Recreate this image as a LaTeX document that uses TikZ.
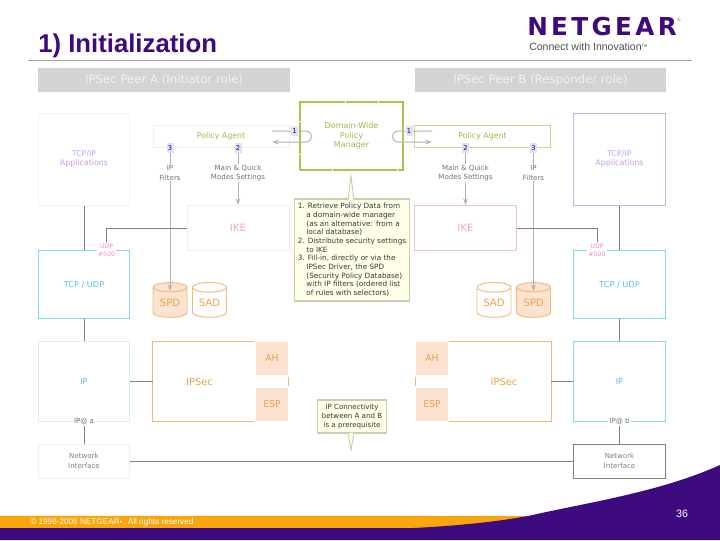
\documentclass[tikz,border=0pt]{standalone}
\usepackage{xcolor}
\usepackage{fontspec}
\setmainfont{DejaVu Sans}
\newfontfamily\titlefont{Liberation Sans}
\newfontfamily\logofont[LetterSpace=13.5]{DejaVu Sans}
\usetikzlibrary{positioning, arrows.meta, calc, shapes.geometric}
\definecolor{netpurple}{HTML}{3E0A80}
\definecolor{netorange}{HTML}{FAA50A}
\definecolor{headgray}{HTML}{D3D3D3}
\definecolor{policygreen}{HTML}{98BC48}
\definecolor{managergreen}{HTML}{ABC24C}
\definecolor{agentgreen}{HTML}{C6D690}
\definecolor{appviolet}{HTML}{C29EEC}
\definecolor{appborder}{HTML}{C8B0E0}
\definecolor{ikepink}{HTML}{E6A6D2}
\definecolor{ikeborder}{HTML}{EDBFDD}
\definecolor{udppink}{HTML}{EE8CC8}
\definecolor{tcpcyan}{HTML}{55C2E0}
\definecolor{tcpborder}{HTML}{85D6E8}
\definecolor{secorange}{HTML}{E8A24A}
\definecolor{secborder}{HTML}{F3B778}
\definecolor{secfill}{HTML}{FCE3CF}
\definecolor{faintline}{HTML}{EFEFEF}
\definecolor{badgeblue}{HTML}{E0E0F6}
\definecolor{notefill}{HTML}{FFFFE8}
\definecolor{noteborder}{HTML}{CDCDB4}
\tikzset{
    boxsize/.style 2 args={minimum width=#1*0.75pt, minimum height=#2*0.75pt},
    plainbox/.style={draw, line width=0.75pt, inner sep=0pt, align=center,
        font=\fontsize{5.9}{7}\selectfont},
    badge/.style={fill=badgeblue, text=blue!50!black, inner sep=0pt, boxsize={7}{10},
        font=\fontsize{5}{5}\selectfont},
    graylabel/.style={fill=white, text=black!55, inner sep=0.6pt, align=center,
        font=\fontsize{5.3}{7}\selectfont},
    link/.style={draw=black!50, line width=0.75pt},
    thinflow/.style={draw=black!30, line width=0.75pt},
    flow/.style={thinflow, -{Stealth[length=5pt,width=3.5pt]}},
    udplabel/.style={fill=white, text=udppink, inner sep=1pt, align=center,
        font=\fontsize{4.6}{6.3}\selectfont},
    disk/.style={cylinder, shape border rotate=90, aspect=0.45, draw=secborder, line width=0.7pt,
        text=secorange, inner sep=0pt, minimum width=25.5pt, minimum height=26pt,
        font=\fontsize{7.6}{8}\selectfont},
    secbox/.style={text=secorange, inner sep=0pt, align=center, boxsize={102}{80},
        font=\fontsize{7.4}{8}\selectfont},
    secline/.style={draw=secborder, line width=0.75pt},
    protocol/.style={fill=secfill, text=secorange, inner sep=0pt, boxsize={32}{33},
        font=\fontsize{7}{8}\selectfont},
    note/.style={draw=noteborder, fill=notefill, line width=0.9pt, text=black!78, inner sep=0pt},
    head/.style={fill=headgray, text=white!95!black, inner sep=0pt, boxsize={252}{24},
        font=\fontsize{8.8}{10}\selectfont}
}
\begin{document}
\begin{tikzpicture}[x=0.75pt, y=-0.75pt]
    \useasboundingbox (0,0) rectangle (720,540);

    % footer
    \fill[netorange] (0,516) -- (530,516) -- (530,528) -- (0,528) -- cycle;
    \fill[netpurple] (0,528) -- (413,528) .. controls (455,526) and (495,522) .. (528,516)
        .. controls (590,502) and (660,492) .. (720,465) -- (720,540) -- (0,540) -- cycle;
    \node[text=white, anchor=west, inner sep=0pt, font=\titlefont\fontsize{6.15}{7}\selectfont] (copyright) at (30,522)
        {© 1996-2006 NETGEAR\raisebox{0.5pt}{\fontsize{3.5}{4}\selectfont●}. All rights reserved};
    \node[text=white, inner sep=0pt, font=\titlefont\fontsize{8}{9}\selectfont] (pagenum) at (682,514) {36};

    % title and logo
    \node[anchor=west, inner sep=0pt, text=netpurple, font=\titlefont\bfseries\fontsize{19.3}{22}\selectfont] (title) at (38,46)
        {1) Initialization};
    \draw[black!35, line width=0.6pt] (28,60) -- (692,60);
    \node[anchor=west, inner sep=0pt, text=netpurple, font=\logofont\bfseries\fontsize{18.5}{20}\selectfont] (logo) at (527,27) {NETGEAR};
    \node[anchor=west, inner sep=0pt, text=black!70, font=\titlefont\fontsize{7.9}{9}\selectfont] (slogan) at (529,47)
        {Connect with Innovation\raisebox{2.5pt}{\fontsize{3}{3}\selectfont TM}};
    \node[inner sep=0pt, text=black!55, font=\titlefont\fontsize{3.5}{4}\selectfont] (regmark) at (679,20) {®};

    \node[head] (heada) at (164,80) {IPSec Peer A (Initiator role)};
    \node[head, boxsize={251}{24}] (headb) at (540.5,80) {IPSec Peer B (Responder role)};

    % peer A
    \node[plainbox, draw=appviolet!18, text=appviolet, boxsize={91}{92}] (appsa) at (84,159) {TCP/IP\\Applications};
    \node[plainbox, draw=faintline, text=policygreen, boxsize={136}{22}] (agenta) at (221,136) {Policy Agent};
    \node[plainbox, draw=faintline, text=ikepink, boxsize={102}{45}, font=\fontsize{7.6}{8}\selectfont] (ikea) at (238,228) {IKE};
    \node[plainbox, draw=tcpborder, text=tcpcyan, boxsize={91}{68}, font=\fontsize{6.15}{7}\selectfont] (tcpa) at (84,284.5) {TCP / UDP};
    \node[plainbox, draw=tcpborder!35, text=tcpcyan, boxsize={91}{80}, font=\fontsize{6.15}{7}\selectfont] (ipa) at (84,381.5) {IP};
    \node[plainbox, draw=faintline, text=black!50, boxsize={91}{34}, font=\fontsize{5.3}{7}\selectfont] (neta) at (84,461) {Network\\Interface};
    \node[disk, fill=secfill] (spda) at (170,302.5) {SPD};
    \node[disk] (sada) at (209.5,302.5) {SAD};
    \node[secbox, boxsize={101}{80}] (ipseca) at (203.5,381.5) {\hspace*{-6pt}IPSec};
    \node[protocol] (aha) at (272,358.5) {AH};
    \node[protocol] (espa) at (272,404.5) {ESP};
    \draw[secline] (ipseca.north east) -- (ipseca.north west) -- (ipseca.south west) -- (ipseca.south east);
    \draw[secline, shorten >=1pt, shorten <=1pt] (aha.south east) -- (espa.north east);

    % peer B
    \node[plainbox, draw=appborder, text=appviolet, boxsize={92}{92}] (appsb) at (619.5,159) {TCP/IP\\Applications};
    \node[plainbox, draw=agentgreen, text=policygreen, boxsize={136}{22}] (agentb) at (482.5,136) {Policy Agent};
    \node[plainbox, draw=ikeborder, text=ikepink, boxsize={102}{45}, font=\fontsize{7.6}{8}\selectfont] (ikeb) at (465.5,228) {IKE};
    \node[plainbox, draw=tcpborder, text=tcpcyan, boxsize={92}{68}, font=\fontsize{6.15}{7}\selectfont] (tcpb) at (619.5,284.5) {TCP / UDP};
    \node[plainbox, draw=tcpborder, text=tcpcyan, boxsize={92}{80}, font=\fontsize{6.15}{7}\selectfont] (ipb) at (619.5,381.5) {IP};
    \node[plainbox, draw=black!50, text=black!50, boxsize={92}{34}, font=\fontsize{5.3}{7}\selectfont] (netb) at (619.5,461) {Network\\Interface};
    \node[disk] (sadb) at (494,302.5) {SAD};
    \node[disk, fill=secfill] (spdb) at (533.5,302.5) {SPD};
    \node[secbox] (ipsecb) at (500,381.5) {\hspace*{6pt}IPSec};
    \node[protocol] (ahb) at (432,358.5) {AH};
    \node[protocol] (espb) at (432,404.5) {ESP};
    \draw[secline] (ipsecb.north west) -- (ipsecb.north east) -- (ipsecb.south east) -- (ipsecb.south west);
    \draw[secline, shorten >=1pt, shorten <=1pt] (ahb.south west) -- (espb.north west);

    % manager and policy flow
    \node[plainbox, draw=managergreen, text=policygreen, boxsize={103}{68}, line width=0.9pt, dash pattern=on 24pt off 0.5pt,
        font=\fontsize{6}{7}\selectfont] (manager) at (351.5,136) {Domain-Wide\\Policy\\Manager};
    \coordinate (loopaout) at (272,131);
    \coordinate (loopain) at (272,142);
    \coordinate (loopbout) at (432,131);
    \coordinate (loopbin) at (432,142);
    \draw[flow] (loopaout) -- (305,131) .. controls (314,131) and (314,142) .. (305,142) -- (loopain);
    \draw[flow] (loopbout) -- (399,131) .. controls (390,131) and (390,142) .. (399,142) -- (loopbin);
    \node[badge] (onea) at (294.5,131) {1};
    \node[badge] (oneb) at (409,131) {1};
    \node[badge] (threea) at (170,148) {3};
    \node[badge] (twoa) at (238,148) {2};
    \node[badge] (twob) at (465.5,148) {2};
    \node[badge] (threeb) at (533.5,148) {3};
    \node[graylabel] (filtersa) at (170,173) {IP\\Filters};
    \node[graylabel] (modesa) at (238,173) {Main \& Quick\\Modes Settings};
    \node[graylabel] (modesb) at (465.5,173) {Main \& Quick\\Modes Settings};
    \node[graylabel] (filtersb) at (533.5,173) {IP\\Filters};
    \coordinate (spdatip) at (170,291);
    \coordinate (spdbtip) at (533.5,291);
    \draw[thinflow] (threea) -- (filtersa);
    \draw[thinflow] (twoa) -- (modesa);
    \draw[thinflow] (twob) -- (modesb);
    \draw[thinflow] (threeb) -- (filtersb);
    \draw[flow] (filtersa) -- (spdatip);
    \draw[flow] (modesa) -- (ikea);
    \draw[flow] (modesb) -- (ikeb);
    \draw[flow] (filtersb) -- (spdbtip);

    % stack links
    \node[udplabel] (udpa) at (106.5,250) {UDP\\\#500};
    \node[udplabel] (udpb) at (597,250) {UDP\\\#500};
    \node[graylabel, inner sep=1pt] (addra) at (84,421.5) {IP@ a};
    \node[graylabel, inner sep=1pt] (addrb) at (619.5,421.5) {IP@ b};
    \draw[link] (appsa) -- (tcpa);
    \draw[link] (tcpa) -- (ipa);
    \draw[link] (ipa) -- (ipseca);
    \draw[link] (addra) -- (neta);
    \draw[link] (ikea.west) -| (udpa.north);
    \draw[link] (appsb) -- (tcpb);
    \draw[link] (tcpb) -- (ipb);
    \draw[link] (ipb) -- (ipsecb);
    \draw[link] (addrb) -- (netb);
    \draw[link] (ikeb.east) -| (udpb.north);
    \draw[link] (neta) -- (netb);

    % notes
    \node[note, boxsize={115}{102}, align=left, font=\fontsize{5.45}{6.5}\selectfont] (notemain) at (352,250) {%
        1. Retrieve Policy Data from\\
        \hspace*{6.5pt}a domain-wide manager\\
        \hspace*{6.5pt}(as an alternative: from a\\
        \hspace*{6.5pt}local database)\\
        2. Distribute security settings\\
        \hspace*{6.5pt}to IKE\\
        3. Fill-in, directly or via the\\
        \hspace*{6.5pt}IPSec Driver, the SPD\\
        \hspace*{6.5pt}(Security Policy Database)\\
        \hspace*{6.5pt}with IP filters (ordered list\\
        \hspace*{6.5pt}of rules with selectors)};
    \draw[draw=noteborder, fill=notefill, line width=0.7pt] (348,200) -- (351,176) -- (354,200);
    \node[note, boxsize={69}{33}, align=center, font=\fontsize{5.3}{6.5}\selectfont] (noteconn) at (352,416.5)
        {IP Connectivity\\between A and B\\is a prerequisite};
    \draw[draw=noteborder, fill=notefill, line width=0.7pt] (348,433) -- (351,450) -- (354,433);
\end{tikzpicture}
\end{document}
